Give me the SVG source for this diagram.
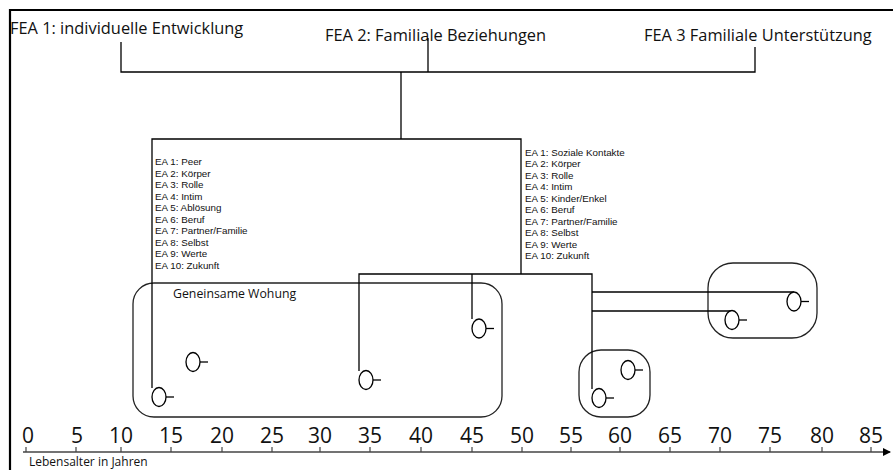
<svg xmlns="http://www.w3.org/2000/svg" width="893" height="470" viewBox="0 0 893 470">
<style>
.ln{fill:none;stroke:#000;stroke-width:1.3}
.fr{fill:none;stroke:#000;stroke-width:2.2}
.grp{fill:none;stroke:#222;stroke-width:1.3}
.c{fill:#fff;stroke:#000;stroke-width:1.3}
.h{font-family:"Open Sans","Noto Sans",sans-serif;font-size:16.4px;fill:#111}
.l{font-family:"Liberation Sans",Arial,sans-serif;font-size:9.8px;fill:#111}
.n{font-family:"Open Sans","Noto Sans",sans-serif;font-size:21px;fill:#111}
.w{font-family:"Open Sans","Noto Sans",sans-serif;font-size:12.3px;fill:#111}
.ax{font-family:"Open Sans","Noto Sans",sans-serif;font-size:12px;fill:#111}
</style>
<defs>
<marker id="arr" markerWidth="8" markerHeight="8" refX="7" refY="4" orient="auto" markerUnits="userSpaceOnUse">
<path d="M0,0 L8,4 L0,8 Z" fill="#000"/>
</marker>
<g id="pin"><ellipse cx="0" cy="0" rx="7" ry="9.5" class="c"/><line x1="7" y1="0" x2="15" y2="0" class="ln"/></g>
</defs>
<rect width="893" height="470" fill="#fff"/>
<path d="M10,470 V10 H893" class="fr"/>

<g id="fea1"><text x="10" y="34" class="h">FEA 1: individuelle Entwicklung</text></g>
<g id="fea2"><text x="325" y="41" class="h">FEA 2: Familiale Beziehungen</text></g>
<g id="fea3"><text x="644" y="41" class="h">FEA 3 Familiale Unterstützung</text></g>

<g id="ea-left">
<text class="l" x="155" y="165">EA 1: Peer</text>
<text class="l" x="155" y="176.6">EA 2: Körper</text>
<text class="l" x="155" y="188.1">EA 3: Rolle</text>
<text class="l" x="155" y="199.7">EA 4: Intim</text>
<text class="l" x="155" y="211.2">EA 5: Ablösung</text>
<text class="l" x="155" y="222.8">EA 6: Beruf</text>
<text class="l" x="155" y="234.3">EA 7: Partner/Familie</text>
<text class="l" x="155" y="245.9">EA 8: Selbst</text>
<text class="l" x="155" y="257.4">EA 9: Werte</text>
<text class="l" x="155" y="269">EA 10: Zukunft</text>
</g>
<g id="ea-right">
<text class="l" x="525" y="156">EA 1: Soziale Kontakte</text>
<text class="l" x="525" y="167.4">EA 2: Körper</text>
<text class="l" x="525" y="178.9">EA 3: Rolle</text>
<text class="l" x="525" y="190.3">EA 4: Intim</text>
<text class="l" x="525" y="201.8">EA 5: Kinder/Enkel</text>
<text class="l" x="525" y="213.2">EA 6: Beruf</text>
<text class="l" x="525" y="224.6">EA 7: Partner/Familie</text>
<text class="l" x="525" y="236.1">EA 8: Selbst</text>
<text class="l" x="525" y="247.5">EA 9: Werte</text>
<text class="l" x="525" y="259">EA 10: Zukunft</text>
</g>

<g id="wohnung">
<rect x="133" y="283" width="369" height="134" rx="21" ry="21" class="grp"/>
<text x="173" y="298" class="w">Geneinsame Wohung</text>
</g>
<g id="group2"><rect x="579" y="350" width="71" height="67" rx="22" ry="22" class="grp"/></g>
<g id="group3"><rect x="708" y="263" width="109" height="75" rx="25" ry="25" class="grp"/></g>

<g id="connectors">
<path d="M121,42 V72 H755 V47" class="ln"/>
<path d="M428,38 V72" class="ln"/>
<path d="M401,72 V139" class="ln"/>
<path d="M152,388 V139 H521 V274" class="ln"/>
<path d="M359,371 V274 H592 V389" class="ln"/>
<path d="M472,319 V274" class="ln"/>
<path d="M592,292 H794" class="ln"/>
<path d="M592,311 H732" class="ln"/>
</g>

<g id="p1"><use href="#pin" x="159" y="397"/></g>
<g id="p2"><use href="#pin" x="193" y="362"/></g>
<g id="p3"><use href="#pin" x="366" y="380"/></g>
<g id="p4"><use href="#pin" x="479" y="328.5"/></g>
<g id="p5"><use href="#pin" x="599" y="398"/></g>
<g id="p6"><use href="#pin" x="628" y="370"/></g>
<g id="p7"><use href="#pin" x="732" y="320"/></g>
<g id="p8"><use href="#pin" x="794" y="301.5"/></g>

<g id="axis">
<line x1="23" y1="452" x2="890" y2="452" stroke="#444" stroke-width="1.5" marker-end="url(#arr)"/>
<g stroke="#444" stroke-width="1.2">
<line x1="26" y1="447" x2="26" y2="452"/><line x1="76" y1="447" x2="76" y2="452"/>
<line x1="121" y1="447" x2="121" y2="452"/><line x1="171" y1="447" x2="171" y2="452"/>
<line x1="222" y1="447" x2="222" y2="452"/><line x1="272" y1="447" x2="272" y2="452"/>
<line x1="320" y1="447" x2="320" y2="452"/><line x1="370" y1="447" x2="370" y2="452"/>
<line x1="421" y1="447" x2="421" y2="452"/><line x1="472" y1="447" x2="472" y2="452"/>
<line x1="522" y1="447" x2="522" y2="452"/><line x1="571" y1="447" x2="571" y2="452"/>
<line x1="620" y1="447" x2="620" y2="452"/><line x1="670" y1="447" x2="670" y2="452"/>
<line x1="720" y1="447" x2="720" y2="452"/><line x1="770" y1="447" x2="770" y2="452"/>
<line x1="822" y1="447" x2="822" y2="452"/><line x1="871" y1="447" x2="871" y2="452"/>
</g>
<g class="n" text-anchor="middle">
<text x="28" y="443">0</text><text x="77" y="443">5</text>
<text x="121" y="443">10</text><text x="171" y="443">15</text>
<text x="222" y="443">20</text><text x="272" y="443">25</text>
<text x="320" y="443">30</text><text x="370" y="443">35</text>
<text x="421" y="443">40</text><text x="472" y="443">45</text>
<text x="522" y="443">50</text><text x="571" y="443">55</text>
<text x="620" y="443">60</text><text x="670" y="443">65</text>
<text x="720" y="443">70</text><text x="770" y="443">75</text>
<text x="822" y="443">80</text><text x="871" y="443">85</text>
</g>
<text x="29" y="466" class="ax">Lebensalter in Jahren</text>
</g>
</svg>
